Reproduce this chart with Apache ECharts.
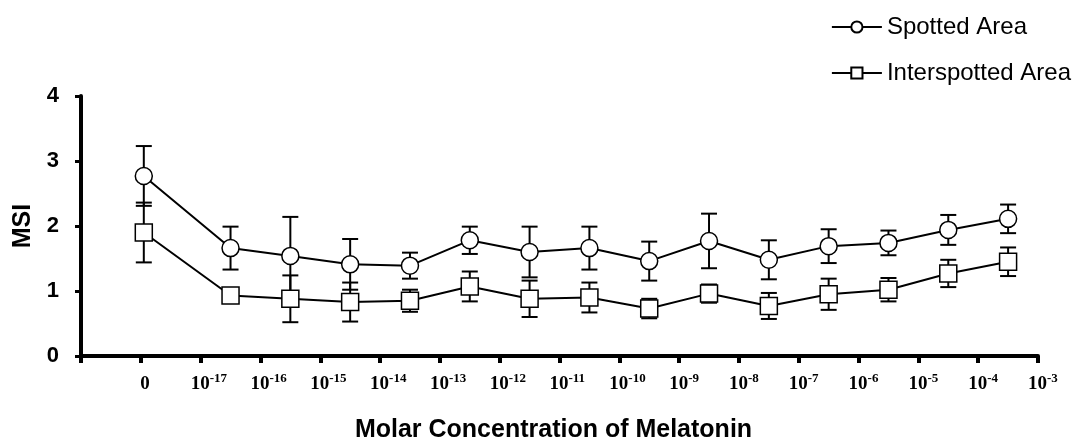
<!DOCTYPE html>
<html>
<head>
<meta charset="utf-8">
<script src="https://cdn.jsdelivr.net/npm/echarts@6/dist/echarts.min.js"></script>
<style>
html, body { margin: 0; padding: 0; background: #fff; }
#chart { width: 1080px; height: 442px; }
</style>
</head>
<body>
<div id="chart"></div>
<script>
// positions on the x scale (0 = "0", 1 = 10^-17 ... 15 = 10^-3)
var xPos = [0.05, 1.5, 2.5, 3.5, 4.5, 5.5, 6.5, 7.5, 8.5, 9.5, 10.5, 11.5, 12.5, 13.5, 14.5];
// exponents shown under the ticks 1..15
var tickExp = [-17, -16, -15, -14, -13, -12, -11, -10, -9, -8, -7, -6, -5, -4, -3];

var spotted    = [2.77, 1.66, 1.54, 1.41, 1.39, 1.78, 1.60, 1.66, 1.46, 1.77, 1.48, 1.69, 1.74, 1.94, 2.11];
var spottedErr = [0.46, 0.33, 0.60, 0.39, 0.20, 0.21, 0.39, 0.33, 0.30, 0.42, 0.30, 0.26, 0.19, 0.23, 0.22];
var inter      = [1.90, 0.93, 0.88, 0.83, 0.85, 1.07, 0.88, 0.90, 0.73, 0.96, 0.77, 0.95, 1.02, 1.27, 1.45];
var interErr   = [0.46, 0.10, 0.36, 0.30, 0.17, 0.23, 0.28, 0.23, 0.15, 0.14, 0.20, 0.24, 0.18, 0.21, 0.22];

function pts(ys) {
	var out = [];
	for (var i = 0; i < ys.length; i++) out.push([xPos[i], ys[i]]);
	return out;
}
function errs(ys, es) {
	var out = [];
	for (var i = 0; i < ys.length; i++) out.push([xPos[i], ys[i] - es[i], ys[i] + es[i]]);
	return out;
}

function errorItem(params, api) {
	var x = api.value(0);
	var lo = api.coord([x, api.value(1)]);
	var hi = api.coord([x, api.value(2)]);
	var w = 8;
	var st = { stroke: '#000', lineWidth: 2 };
	return {
		type: 'group',
		children: [
			{ type: 'line', shape: { x1: lo[0], y1: lo[1], x2: hi[0], y2: hi[1] }, style: st },
			{ type: 'line', shape: { x1: lo[0] - w, y1: lo[1], x2: lo[0] + w, y2: lo[1] }, style: st },
			{ type: 'line', shape: { x1: hi[0] - w, y1: hi[1], x2: hi[0] + w, y2: hi[1] }, style: st }
		]
	};
}

var sans = "'Liberation Sans', Arial, sans-serif";
var serif = "'Liberation Serif', 'Times New Roman', serif";

var option = {
	animation: false,
	backgroundColor: '#fff',
	grid: { left: 81, right: 42, top: 96, bottom: 86, outerBoundsMode: 'none' },
	legend: {
		orient: 'vertical',
		right: 4,
		top: 10,
		itemGap: 22,
		itemWidth: 50,
		itemHeight: 14,
		data: ['Spotted Area', 'Interspotted Area'],
		textStyle: { fontFamily: sans, fontSize: 24, color: '#000' }
	},
	xAxis: {
		type: 'value',
		min: -1,
		max: 15,
		interval: 1,
		name: 'Molar Concentration of Melatonin',
		nameLocation: 'middle',
		nameGap: 62,
		nameTextStyle: { fontFamily: sans, fontSize: 25, fontWeight: 'bold', color: '#000', padding: [0, 12, 0, 0] },
		splitLine: { show: false },
		axisLine: { lineStyle: { color: '#000', width: 4 } },
		axisTick: { length: 7, lineStyle: { color: '#000', width: 4 } },
		axisLabel: {
			margin: 16,
			align: 'left',
			padding: [0, 0, 0, -10],
			formatter: function (v) {
				if (v < 0) return '';
				if (v === 0) return '{b|  0}';
				return '{b|10}{s|' + tickExp[v - 1] + '}';
			},
			rich: {
				b: { fontFamily: serif, fontWeight: 'bold', fontSize: 19, color: '#000', verticalAlign: 'bottom', lineHeight: 22 },
				s: { fontFamily: serif, fontWeight: 'bold', fontSize: 13, color: '#000', verticalAlign: 'top', lineHeight: 22, padding: [0, 0, 8, 0] }
			}
		}
	},
	yAxis: {
		type: 'value',
		min: 0,
		max: 4,
		interval: 1,
		name: 'MSI',
		nameLocation: 'middle',
		nameGap: 43,
		nameTextStyle: { fontFamily: sans, fontSize: 25, fontWeight: 'bold', color: '#000' },
		splitLine: { show: false },
		axisLine: { show: true, onZero: false, lineStyle: { color: '#000', width: 4 } },
		axisTick: { show: true, length: 6, lineStyle: { color: '#000', width: 3 } },
		axisLabel: { margin: 22, fontFamily: sans, fontSize: 22, fontWeight: 'bold', color: '#000' }
	},
	series: [
		{
			type: 'custom',
			name: 'spottedErr',
			renderItem: errorItem,
			data: errs(spotted, spottedErr),
			encode: { x: 0, y: [1, 2] },
			z: 1
		},
		{
			type: 'custom',
			name: 'interErr',
			renderItem: errorItem,
			data: errs(inter, interErr),
			encode: { x: 0, y: [1, 2] },
			z: 1
		},
		{
			type: 'line',
			name: 'Spotted Area',
			data: pts(spotted),
			symbol: 'circle',
			symbolSize: 17,
			lineStyle: { color: '#000', width: 2 },
			itemStyle: { color: '#fff', borderColor: '#000', borderWidth: 1.5 },
			z: 3
		},
		{
			type: 'line',
			name: 'Interspotted Area',
			data: pts(inter),
			symbol: 'rect',
			symbolSize: 17,
			lineStyle: { color: '#000', width: 2 },
			itemStyle: { color: '#fff', borderColor: '#000', borderWidth: 1.5 },
			z: 3
		}
	]
};

echarts.init(document.getElementById('chart')).setOption(option);
</script>
</body>
</html>
